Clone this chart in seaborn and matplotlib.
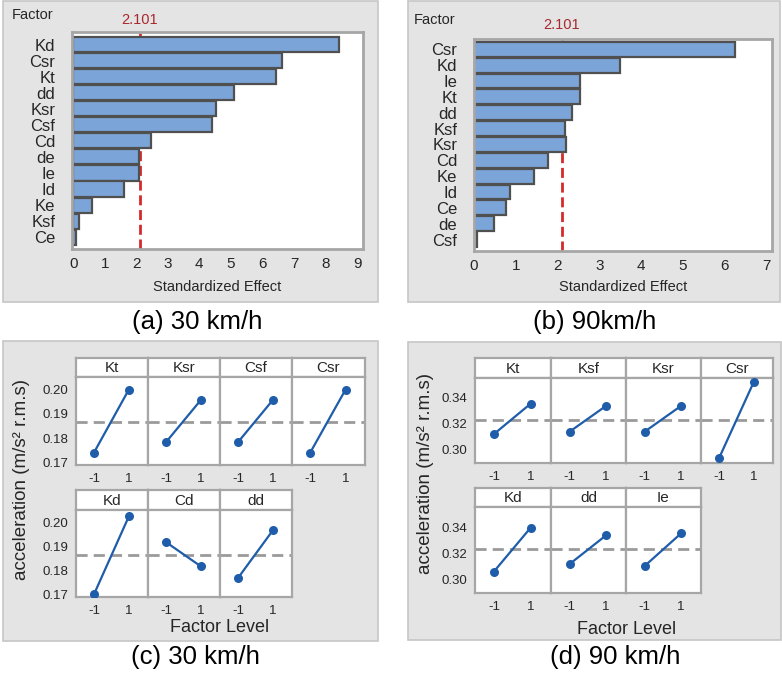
import matplotlib
matplotlib.use("Agg")
import matplotlib.pyplot as plt
from matplotlib.patches import Rectangle
from matplotlib.ticker import FormatStrFormatter
import seaborn as sns
import pandas as pd

# Pareto charts of the standardized effects
factors_30 = ['Kd', 'Csr', 'Kt', 'dd', 'Ksr', 'Csf', 'Cd', 'de', 'Ie', 'Id', 'Ke', 'Ksf', 'Ce']
effects_30 = [8.42, 6.62, 6.44, 5.11, 4.53, 4.41, 2.48, 2.09, 2.09, 1.60, 0.60, 0.19, 0.08]
factors_90 = ['Csr', 'Kd', 'Ie', 'Kt', 'dd', 'Ksf', 'Ksr', 'Cd', 'Ke', 'Id', 'Ce', 'de', 'Csf']
effects_90 = [6.26, 3.50, 2.54, 2.54, 2.36, 2.19, 2.20, 1.78, 1.44, 0.86, 0.77, 0.49, 0.07]
critical = 2.101

# Main effects plots (mean acceleration at level -1 and 1)
levels = [-1, 1]
me30_top = ['Kt', 'Ksr', 'Csf', 'Csr']
me30_top_low = [0.1740, 0.1783, 0.1783, 0.1740]
me30_top_high = [0.2000, 0.1957, 0.1957, 0.2000]
me30_bot = ['Kd', 'Cd', 'dd']
me30_bot_low = [0.1700, 0.1918, 0.1768]
me30_bot_high = [0.2025, 0.1817, 0.1967]
mean_30 = 0.1865

me90_top = ['Kt', 'Ksf', 'Ksr', 'Csr']
me90_top_low = [0.3119, 0.3138, 0.3138, 0.2930]
me90_top_high = [0.3356, 0.3338, 0.3338, 0.3525]
me90_bot = ['Kd', 'dd', 'Ie']
me90_bot_low = [0.3059, 0.3117, 0.3102]
me90_bot_high = [0.3397, 0.3337, 0.3352]
mean_90 = 0.3230

W, H = 782, 675
BAR = '#7BA5D8'
EDGE = '#505050'
RED = '#D42A2A'
BLUE = '#1F5DAA'
FRAME = '#A6A6A6'
TXT = '#262626'

sns.set_style("white")
plt.rcParams['font.family'] = ['Liberation Sans', 'DejaVu Sans']
plt.rcParams['axes.unicode_minus'] = False


def px(x0, y0, x1, y1):
    # pixel box (top-left origin) -> figure fraction rect
    return [x0 / W, 1 - y1 / H, (x1 - x0) / W, (y1 - y0) / H]


def ftext(x, y, s, **kw):
    fig.text(x / W, 1 - y / H, s, **kw)


fig = plt.figure(figsize=(W / 100, H / 100), dpi=100)
fig.patch.set_facecolor('white')

# grey panel backgrounds
for x0, y0, x1, y1 in [(3, 1, 378, 302), (408, 1, 780, 302), (3, 341, 378, 641), (408, 342, 781, 640)]:
    fig.add_artist(Rectangle((x0 / W, 1 - y1 / H), (x1 - x0) / W, (y1 - y0) / H,
                             transform=fig.transFigure, facecolor='#E4E4E4',
                             edgecolor='#C6C6C6', lw=1.2, zorder=-5))


def pareto(rect, factors, effects, xlim, xticks, ylim, crit_y, factor_x, factor_y):
    ax = fig.add_axes(px(*rect))
    df = pd.DataFrame({'Factor': factors, 'Effect': effects})
    sns.barplot(data=df, x='Effect', y='Factor', orient='h', color=BAR, saturation=1,
                edgecolor=EDGE, linewidth=1.6, width=0.94, ax=ax)
    ax.axvline(critical, color=RED, lw=2, ls=(0, (3.6, 1.7)), zorder=0.5)
    ax.set_xlim(*xlim)
    ax.set_ylim(*ylim)
    ax.set_xticks(xticks)
    ax.set_xlabel('')
    ax.set_ylabel('')
    ax.set_facecolor('white')
    for sp in ax.spines.values():
        sp.set_color(FRAME)
        sp.set_linewidth(2)
    ax.tick_params(axis='y', length=3, width=1, color='#888888', pad=9, labelsize=12, labelcolor=TXT)
    ax.tick_params(axis='x', length=3, width=1, color='#888888', pad=3, labelsize=11, labelcolor=TXT)
    cx = (rect[0] + rect[2]) / 2
    ftext(cx, 287, 'Standardized Effect', ha='center', va='center', fontsize=10.5, color=TXT)
    ftext(factor_x, factor_y, 'Factor', ha='left', va='center', fontsize=10.5, color=TXT)
    x_crit = rect[0] + (critical - xlim[0]) / (xlim[1] - xlim[0]) * (rect[2] - rect[0])
    ftext(x_crit, crit_y, '2.101', ha='center', va='center', fontsize=10.5, color='#A8282E')


pareto((72, 32, 363, 249), factors_30, effects_30, (-0.04, 9.19), range(10),
       (12.74, -0.79), 20, 12, 15)
pareto((474, 39, 772, 251), factors_90, effects_90, (0, 7.14), range(8),
       (12.72, -0.65), 25, 414, 20)


def effects_row(cols, strip_y0, strip_y1, pan_y1, names, lows, highs, ylim, yticks, mean):
    for i, name in enumerate(names):
        x0, x1 = cols[i], cols[i + 1]
        st = fig.add_axes(px(x0, strip_y0, x1, strip_y1))
        st.set_facecolor('white')
        st.set_xticks([])
        st.set_yticks([])
        st.text(0.5, 0.45, name, ha='center', va='center', fontsize=11, color=TXT,
                transform=st.transAxes)
        ax = fig.add_axes(px(x0, strip_y1, x1, pan_y1))
        ax.set_facecolor('white')
        ax.axhline(mean, color='#9A9A9A', lw=2, ls=(0, (4, 2.2)), zorder=1)
        sns.lineplot(x=levels, y=[lows[i], highs[i]], color=BLUE, lw=1.6, marker='o',
                     markersize=6.5, markeredgewidth=0, ax=ax, zorder=3)
        ax.set_xlim(-2.03, 2.1)
        ax.set_ylim(*ylim)
        ax.set_xticks(levels)
        ax.set_yticks(yticks)
        ax.yaxis.set_major_formatter(FormatStrFormatter('%.2f'))
        ax.set_xlabel('')
        ax.set_ylabel('')
        ax.tick_params(axis='both', length=3, width=1, color='#888888', pad=2.5,
                       labelsize=9.5, labelcolor=TXT)
        if i > 0:
            ax.tick_params(axis='y', left=False, labelleft=False)
        for a in (st, ax):
            for sp in a.spines.values():
                sp.set_color(FRAME)
                sp.set_linewidth(1.6)


cols_30 = [76, 148, 220, 292, 365]
yl_30 = (0.1689, 0.2052)
yt_30 = [0.17, 0.18, 0.19, 0.20]
effects_row(cols_30, 358, 377, 465, me30_top, me30_top_low, me30_top_high, yl_30, yt_30, mean_30)
effects_row(cols_30, 490, 510, 597, me30_bot, me30_bot_low, me30_bot_high, yl_30, yt_30, mean_30)

cols_90 = [475, 551, 626, 701, 773]
yl_90 = (0.2894, 0.3555)
yt_90 = [0.30, 0.32, 0.34]
effects_row(cols_90, 358, 378, 463, me90_top, me90_top_low, me90_top_high, yl_90, yt_90, mean_90)
effects_row(cols_90, 488, 507, 593, me90_bot, me90_bot_low, me90_bot_high, yl_90, yt_90, mean_90)

ylab = 'acceleration (m/s\u00b2 r.m.s)'
ftext(22, 479, ylab, rotation=90, ha='center', va='center', fontsize=13.5, color=TXT)
ftext(425, 473, ylab, rotation=90, ha='center', va='center', fontsize=13.5, color=TXT)
ftext(220, 627, 'Factor Level', ha='center', va='center', fontsize=13, color=TXT)
ftext(627, 629, 'Factor Level', ha='center', va='center', fontsize=13, color=TXT)

# captions
ftext(197, 322, '(a) 30 km/h', ha='center', va='center', fontsize=18.5, color='black')
ftext(595, 322, '(b) 90km/h', ha='center', va='center', fontsize=18.5, color='black')
ftext(195, 657, '(c) 30 km/h', ha='center', va='center', fontsize=18.5, color='black')
ftext(615, 657, '(d) 90 km/h', ha='center', va='center', fontsize=18.5, color='black')

fig.savefig('out.png', dpi=100)
